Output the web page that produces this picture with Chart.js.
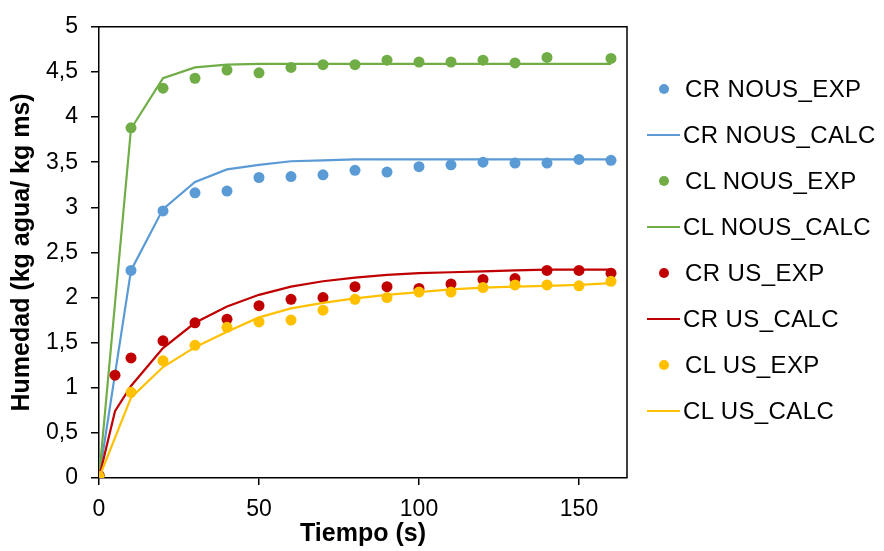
<!DOCTYPE html>
<html>
<head>
<meta charset="utf-8">
<script src="https://cdn.jsdelivr.net/npm/chart.js@4/dist/chart.umd.min.js"></script>
<style>
  html, body { margin: 0; padding: 0; background: #fff; }
  #wrap { position: relative; width: 884px; height: 551px; }
  #legend { position: absolute; left: 646px; top: 66px; font-family: "Liberation Sans", Arial, sans-serif; font-size: 24px; letter-spacing: 0.4px; color: #000; }
  .item { height: 46px; display: flex; align-items: center; white-space: nowrap; }
  .mk { width: 37px; height: 46px; position: relative; flex: none; }
  .dot { position: absolute; left: 13px; top: 18px; width: 10px; height: 10px; border-radius: 50%; }
  .ln { position: absolute; left: 1px; top: 22px; width: 33px; height: 2px; }
</style>
</head>
<body>
<div id="wrap">
  <canvas id="c" width="884" height="551"></canvas>
  <div id="legend"></div>
</div>
<script>
// ---- data ----
const seriesNames = ["CR NOUS_EXP", "CR NOUS_CALC", "CL NOUS_EXP", "CL NOUS_CALC", "CR US_EXP", "CR US_CALC", "CL US_EXP", "CL US_CALC"];
const seriesColors = ["#5B9BD5", "#5B9BD5", "#70AD47", "#70AD47", "#C00000", "#C00000", "#FFC000", "#FFC000"];

const timeStd = [0, 10, 20, 30, 40, 50, 60, 70, 80, 90, 100, 110, 120, 130, 140, 150, 160];
const timeGreenExp = [0, 10, 20, 30, 40, 50, 60, 70, 80, 90, 100, 110, 120, 130, 140, 160];
const timeRed = [0, 5, 10, 20, 30, 40, 50, 60, 70, 80, 90, 100, 110, 120, 130, 140, 150, 160];

const crNousExp  = [0.03, 2.30, 2.96, 3.16, 3.18, 3.33, 3.34, 3.36, 3.41, 3.39, 3.45, 3.47, 3.50, 3.49, 3.49, 3.53, 3.52];
const crNousCalc = [0, 2.30, 2.98, 3.28, 3.42, 3.47, 3.51, 3.52, 3.53, 3.53, 3.53, 3.53, 3.53, 3.53, 3.53, 3.53, 3.53];
const clNousExp  = [0.03, 3.88, 4.32, 4.43, 4.52, 4.49, 4.55, 4.58, 4.58, 4.63, 4.61, 4.61, 4.63, 4.60, 4.66, 4.65];
const clNousCalc = [0, 3.87, 4.43, 4.55, 4.58, 4.59, 4.59, 4.59, 4.59, 4.59, 4.59, 4.59, 4.59, 4.59, 4.59, 4.59, 4.59];
const crUsExp    = [0.03, 1.14, 1.33, 1.52, 1.72, 1.76, 1.91, 1.98, 2.00, 2.12, 2.12, 2.10, 2.15, 2.20, 2.21, 2.30, 2.30, 2.27];
const crUsCalc   = [0, 0.74, 1.02, 1.44, 1.72, 1.90, 2.03, 2.12, 2.18, 2.22, 2.25, 2.27, 2.28, 2.29, 2.30, 2.31, 2.31, 2.31];
const clUsExp    = [0.02, 0.95, 1.30, 1.47, 1.67, 1.73, 1.75, 1.86, 1.98, 2.00, 2.06, 2.06, 2.11, 2.14, 2.14, 2.13, 2.18];
const clUsCalc   = [0, 0.89, 1.23, 1.45, 1.62, 1.78, 1.88, 1.94, 1.99, 2.03, 2.06, 2.09, 2.11, 2.12, 2.13, 2.14, 2.16];

const xTickValues = [0, 50, 100, 150];
const xTitle = "Tiempo (s)";
const yTitle = "Humedad (kg agua/ kg ms)";

// ---- build datasets ----
const pairs = (xs, ys) => xs.map((x, i) => ({ x: x, y: ys[i] }));
const seriesData = [
  pairs(timeStd, crNousExp), pairs(timeStd, crNousCalc),
  pairs(timeGreenExp, clNousExp), pairs(timeStd, clNousCalc),
  pairs(timeRed, crUsExp), pairs(timeRed, crUsCalc),
  pairs(timeStd, clUsExp), pairs(timeStd, clUsCalc)
];
const isExp = seriesNames.map(n => n.endsWith("_EXP"));

const datasets = seriesNames.map((name, i) => ({
  label: name,
  data: seriesData[i],
  showLine: !isExp[i],
  borderColor: seriesColors[i],
  backgroundColor: seriesColors[i],
  borderWidth: isExp[i] ? 0 : 2.2,
  pointRadius: isExp[i] ? 5.5 : 0,
  pointHoverRadius: isExp[i] ? 5.5 : 0,
  pointBorderWidth: 0,
  tension: 0,
  order: seriesNames.length - i
}));

const frame = {
  id: 'frame',
  afterDatasetsDraw(chart) {
    const a = chart.chartArea, ctx = chart.ctx;
    ctx.save();
    ctx.strokeStyle = '#000';
    ctx.lineWidth = 1.5;
    ctx.beginPath();
    ctx.moveTo(a.left, a.top);
    ctx.lineTo(a.right, a.top);
    ctx.lineTo(a.right, a.bottom);
    ctx.stroke();
    ctx.restore();
  }
};

const fontFam = '"Liberation Sans", Arial, sans-serif';
const comma = v => String(v).replace('.', ',');

new Chart(document.getElementById('c'), {
  type: 'scatter',
  data: { datasets: datasets },
  options: {
    responsive: false,
    animation: false,
    events: [],
    layout: { padding: { left: 0, right: 257, top: 21, bottom: 0 } },
    plugins: { legend: { display: false }, tooltip: { enabled: false } },
    scales: {
      x: {
        type: 'linear', min: 0, max: 165,
        afterBuildTicks: s => { s.ticks = xTickValues.map(v => ({ value: v })); },
        afterFit: s => { s.height = 73; },
        border: { display: true, color: '#000', width: 1.5 },
        grid: { drawOnChartArea: false, drawTicks: true, tickLength: 7, color: '#000', lineWidth: 1.5 },
        ticks: { color: '#000', font: { family: fontFam, size: 23 }, padding: 11, maxRotation: 0, callback: v => comma(v) },
        title: { display: true, text: xTitle, color: '#000', font: { family: fontFam, size: 25, weight: 'bold' }, padding: { top: 0, bottom: 2 } }
      },
      y: {
        type: 'linear', min: 0, max: 5,
        ticks: { stepSize: 0.5, color: '#000', font: { family: fontFam, size: 23 }, padding: 13, callback: v => comma(v) },
        afterFit: s => { s.width = 99; },
        border: { display: true, color: '#000', width: 1.5 },
        grid: { drawOnChartArea: false, drawTicks: true, tickLength: 8, color: '#000', lineWidth: 1.5 },
        title: { display: true, text: yTitle, color: '#000', font: { family: fontFam, size: 25, weight: 'bold' }, padding: { top: 7, bottom: 0 } }
      }
    }
  },
  plugins: [frame]
});

// ---- legend (real text) ----
const lg = document.getElementById('legend');
seriesNames.forEach((name, i) => {
  const row = document.createElement('div');
  row.className = 'item';
  const mk = document.createElement('div');
  mk.className = 'mk';
  const m = document.createElement('div');
  m.className = isExp[i] ? 'dot' : 'ln';
  m.style.background = seriesColors[i];
  mk.appendChild(m);
  const t = document.createElement('span');
  t.textContent = name;
  if (isExp[i]) t.style.marginLeft = '2px';
  row.appendChild(mk);
  row.appendChild(t);
  lg.appendChild(row);
});
</script>
</body>
</html>
